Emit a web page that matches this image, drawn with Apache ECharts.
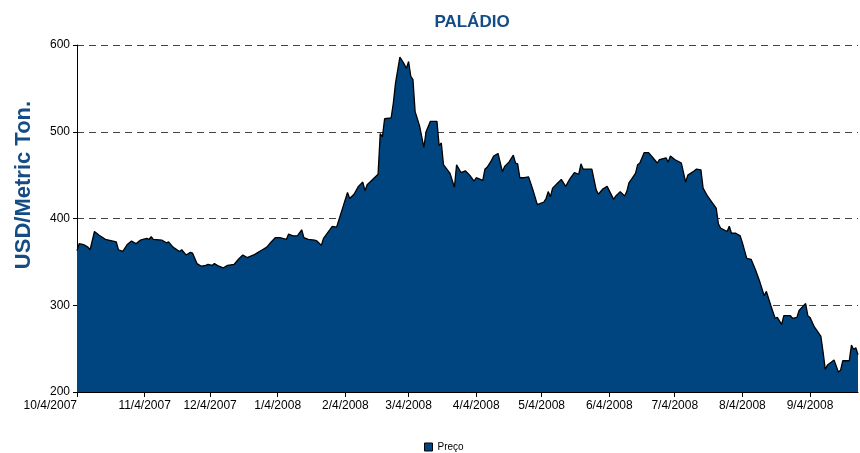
<!DOCTYPE html>
<html>
<head>
<meta charset="utf-8">
<script src="https://cdn.jsdelivr.net/npm/echarts@6/dist/echarts.min.js"></script>
<style>
html,body{margin:0;padding:0;background:#fff;}
#chart{width:860px;height:453px;}
</style>
</head>
<body>
<div id="chart"></div>
<script>
const chartTitle = 'PALÁDIO';
const yAxisTitle = 'USD/Metric Ton.';
const seriesName = 'Preço';
const xTickLabels = ['10/4/2007','11/4/2007','12/4/2007','1/4/2008','2/4/2008','3/4/2008','4/4/2008','5/4/2008','6/4/2008','7/4/2008','8/4/2008','9/4/2008'];
const yTicks = [200, 300, 400, 500, 600];

const dates = [
'2007-10-04','2007-10-05','2007-10-07','2007-10-09','2007-10-10','2007-10-12','2007-10-14','2007-10-17','2007-10-22','2007-10-23',
'2007-10-25','2007-10-27','2007-10-29','2007-10-31','2007-11-02','2007-11-05','2007-11-06','2007-11-07','2007-11-08','2007-11-12',
'2007-11-14','2007-11-15','2007-11-17','2007-11-20','2007-11-21','2007-11-23','2007-11-25','2007-11-26','2007-11-28','2007-11-30',
'2007-12-02','2007-12-03','2007-12-05','2007-12-06','2007-12-08','2007-12-10','2007-12-12','2007-12-15','2007-12-17','2007-12-19',
'2007-12-21','2007-12-24','2007-12-26','2007-12-28','2007-12-30','2008-01-01','2008-01-03','2008-01-05','2008-01-08','2008-01-09',
'2008-01-11','2008-01-13','2008-01-15','2008-01-16','2008-01-18','2008-01-21','2008-01-22','2008-01-24','2008-01-25','2008-01-27',
'2008-01-29','2008-01-31','2008-02-01','2008-02-03','2008-02-05','2008-02-06','2008-02-08','2008-02-10','2008-02-12','2008-02-13',
'2008-02-14','2008-02-19','2008-02-20','2008-02-21','2008-02-22','2008-02-25','2008-02-26','2008-02-27','2008-02-29','2008-03-02',
'2008-03-03','2008-03-04','2008-03-05','2008-03-06','2008-03-07','2008-03-09','2008-03-11','2008-03-12','2008-03-14','2008-03-17',
'2008-03-18','2008-03-19','2008-03-20','2008-03-23','2008-03-25','2008-03-26','2008-03-28','2008-03-30','2008-04-01','2008-04-03',
'2008-04-04','2008-04-07','2008-04-08','2008-04-09','2008-04-11','2008-04-12','2008-04-14','2008-04-16','2008-04-17','2008-04-19',
'2008-04-21','2008-04-22','2008-04-23','2008-04-24','2008-04-26','2008-04-28','2008-04-30','2008-05-02','2008-05-05','2008-05-06',
'2008-05-07','2008-05-08','2008-05-09','2008-05-11','2008-05-13','2008-05-15','2008-05-17','2008-05-19','2008-05-21','2008-05-22',
'2008-05-23','2008-05-27','2008-05-29','2008-05-30','2008-06-01','2008-06-03','2008-06-06','2008-06-07','2008-06-09','2008-06-11',
'2008-06-12','2008-06-13','2008-06-16','2008-06-17','2008-06-18','2008-06-20','2008-06-22','2008-06-24','2008-06-26','2008-06-27',
'2008-06-30','2008-07-01','2008-07-02','2008-07-04','2008-07-07','2008-07-09','2008-07-10','2008-07-13','2008-07-14','2008-07-16',
'2008-07-17','2008-07-19','2008-07-21','2008-07-23','2008-07-24','2008-07-25','2008-07-28','2008-07-29','2008-07-30','2008-08-01',
'2008-08-03','2008-08-04','2008-08-06','2008-08-08','2008-08-10','2008-08-12','2008-08-14','2008-08-15','2008-08-17','2008-08-19',
'2008-08-20','2008-08-22','2008-08-23','2008-08-26','2008-08-27','2008-08-29','2008-08-30','2008-09-02','2008-09-03','2008-09-04',
'2008-09-06','2008-09-09','2008-09-10','2008-09-11','2008-09-12','2008-09-14','2008-09-15','2008-09-17','2008-09-18','2008-09-19',
'2008-09-22','2008-09-23','2008-09-24','2008-09-25','2008-09-26'
];
const prices = [
363,371,370,367,364,385,381,376,373,364,
362,370,374,371,375,377,376,379,376,375,
372,373,367,362,364,358,361,360,348,345,
346,347,346,348,345,343,346,347,353,358,
355,358,361,364,367,373,378,378,376,382,
380,380,387,378,376,375,374,369,377,384,
391,390,398,414,430,423,428,437,442,432,
439,451,498,494,515,516,533,556,586,578,
573,581,564,560,523,507,482,500,512,512,
484,487,462,452,436,462,453,455,450,443,
447,444,457,459,467,472,475,454,460,465,
473,464,463,447,447,448,433,416,419,423,
431,425,435,440,445,437,446,453,451,463,
457,457,433,428,434,437,422,426,431,426,
431,441,452,462,464,476,476,470,464,468,
470,465,472,468,464,442,450,455,457,456,
435,426,419,412,394,389,385,391,383,383,
380,372,354,353,341,327,311,316,300,285,
286,278,288,288,285,286,294,302,288,286,
275,264,246,226,231,235,237,223,225,236,
236,254,249,251,243
];

function parseMDY(s){ const p = s.split('/'); return new Date(+p[2], +p[0]-1, +p[1]).getTime(); }
function parseISO(s){ const p = s.split('-'); return new Date(+p[0], +p[1]-1, +p[2]).getTime(); }
const tickTimes = xTickLabels.map(parseMDY);
const seriesData = dates.map((d, i) => [parseISO(d), prices[i]]);

const chart = echarts.init(document.getElementById('chart'));
const fillColor = '#00457F';
const titleColor = '#154C83';
chart.setOption({
  animation: false,
  backgroundColor: '#fff',
  textStyle: { fontFamily: 'Liberation Sans, Arial, sans-serif' },
  title: {
    text: chartTitle,
    left: 467, top: 9, textAlign: 'center',
    textStyle: { fontSize: 17, fontWeight: 'bold', color: titleColor, fontFamily: 'Liberation Sans, Arial, sans-serif' }
  },
  graphic: [{
    type: 'text',
    x: 24, y: 185,
    rotation: Math.PI / 2,
    style: {
      text: yAxisTitle,
      font: 'bold 22px "Liberation Sans", Arial, sans-serif',
      fill: titleColor,
      textAlign: 'center',
      textVerticalAlign: 'middle'
    }
  }],
  legend: {
    left: 419, top: 437,
    itemWidth: 8, itemHeight: 8, itemGap: 4,
    icon: 'rect',
    textStyle: { fontSize: 10, color: '#000' },
    data: [{ name: seriesName, itemStyle: { color: fillColor, borderColor: '#000', borderWidth: 1 } }]
  },
  grid: { left: 77, right: 2, top: 45, bottom: 61, containLabel: false },
  xAxis: {
    type: 'value',
    min: tickTimes[0],
    max: parseISO(dates[dates.length - 1]),
    axisLine: { show: true, onZero: false, lineStyle: { color: '#000', width: 1 } },
    axisTick: { show: true, length: 5, lineStyle: { color: '#000' }, customValues: tickTimes },
    axisLabel: {
      customValues: tickTimes,
      alignMinLabel: 'right',
      fontSize: 12, color: '#000', margin: 8,
      formatter: function (v) { const d = new Date(v); return (d.getMonth()+1) + '/' + d.getDate() + '/' + d.getFullYear(); }
    },
    splitLine: { show: false }
  },
  yAxis: {
    type: 'value',
    min: yTicks[0], max: yTicks[yTicks.length - 1], interval: 100,
    axisLine: { show: true, lineStyle: { color: '#000', width: 1 } },
    axisTick: { show: true, length: 4, lineStyle: { color: '#000' } },
    axisLabel: { fontSize: 12, color: '#000', margin: 7 },
    splitLine: { show: true, lineStyle: { color: '#444', width: 1, type: [7, 5] } }
  },
  series: [{
    name: seriesName,
    type: 'line',
    data: seriesData,
    symbol: 'none',
    color: fillColor,
    lineStyle: { color: '#000', width: 1.3 },
    areaStyle: { color: fillColor, opacity: 1, origin: 'start' },
    z: 2
  }]
});
</script>
</body>
</html>
